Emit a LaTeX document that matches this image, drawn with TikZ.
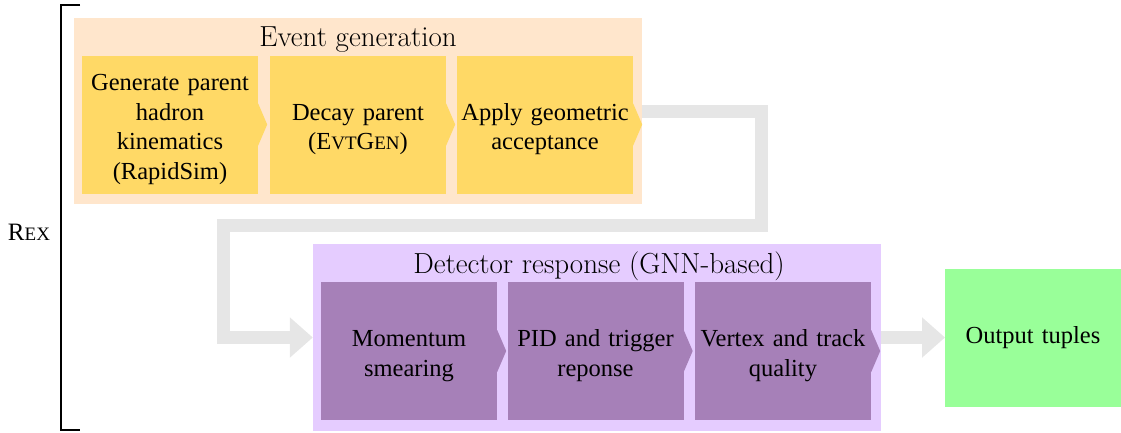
\documentclass[tikz,border=0pt]{standalone}
\usepackage{fontspec}
\newfontfamily\tnr{Liberation Serif}
\usetikzlibrary{arrows.meta}
\definecolor{peach}{HTML}{FFE6CC}
\definecolor{yel}{HTML}{FFD966}
\definecolor{lav}{HTML}{E5CCFF}
\definecolor{purp}{HTML}{A680B8}
\definecolor{grn}{HTML}{99FF99}
\definecolor{gry}{HTML}{E6E6E6}
\newcommand\fsc[1]{{\fontsize{19}{22}\selectfont #1}}
\newcommand\notch[2]{\fill[#2] ([yshift=21pt]#1.east) -- ([xshift=9pt]#1.east) -- ([yshift=-21pt]#1.east) -- cycle;}
\tikzset{
  group/.style={rectangle, inner sep=0pt, minimum width=568pt},
  stepbox/.style={rectangle, inner sep=0pt, minimum width=176pt, minimum height=138pt,
    text width=174pt, align=center, font=\tnr\fontsize{24.5}{29.5}\selectfont},
  lower/.style={execute at begin node={\rule{0pt}{26pt}}},
  title/.style={font=\fontsize{29}{34}\selectfont, inner sep=0pt, anchor=base},
  flow/.style={draw=gry, line width=13pt, -{Triangle[width=39pt,length=23pt]}},
}
\begin{document}
\begin{tikzpicture}[x=1pt,y=-1pt]
\useasboundingbox (0,0) rectangle (1121,432);
% groups
\node[group, fill=peach, minimum height=186pt] (eg) at (358,111) {};
\node[group, fill=lav, minimum height=187pt] (det) at (597,337.5) {};
% flow arrows
\coordinate (c1) at (761.5,111);
\coordinate (c2) at (761.5,225);
\coordinate (c3) at (223.5,225);
\coordinate (c4) at (223.5,337.5);
\draw[flow] (eg.east) -- (c1) -- (c2) -- (c3) -- (c4) -- (det.west);
\draw[flow] (det.east) -- (945,337.5) coordinate (oin);
% titles
\node[title] (egt) at (358,46) {Event generation};
\node[title] (dett) at (599,273) {Detector response (GNN-based)};
% event generation steps
\node[stepbox, lower, fill=yel] (y1) at (170,124.5) {Generate parent\\hadron\\kinematics\\(RapidSim)};
\node[stepbox, lower, fill=yel] (y2) at (358,124.5) {Decay parent\\(E\fsc{VT}G\fsc{EN})};
\node[stepbox, lower, fill=yel] (y3) at (545,124.5) {Apply geometric\\acceptance};
\notch{y1}{yel}
\notch{y2}{yel}
\notch{y3}{yel}
% detector steps
\node[stepbox, lower, fill=purp] (m1) at (409,351) {Momentum\\smearing};
\node[stepbox, lower, fill=purp] (m2) at (595.5,351) {PID and trigger\\reponse};
\node[stepbox, lower, fill=purp] (m3) at (783,351) {Vertex and track\\quality};
\notch{m1}{purp}
\notch{m2}{purp}
\notch{m3}{purp}
% output
\node[stepbox, fill=grn] (out) at (1033,338) {Output tuples};
% bracket
\draw[line width=2.5pt] (80,5) -- (61,5) -- (61,430) -- (80,430);
\node[font=\tnr\fontsize{25}{30}\selectfont, inner sep=0pt] (rex) at (29,232) {R\fsc{EX}};
\end{tikzpicture}
\end{document}
